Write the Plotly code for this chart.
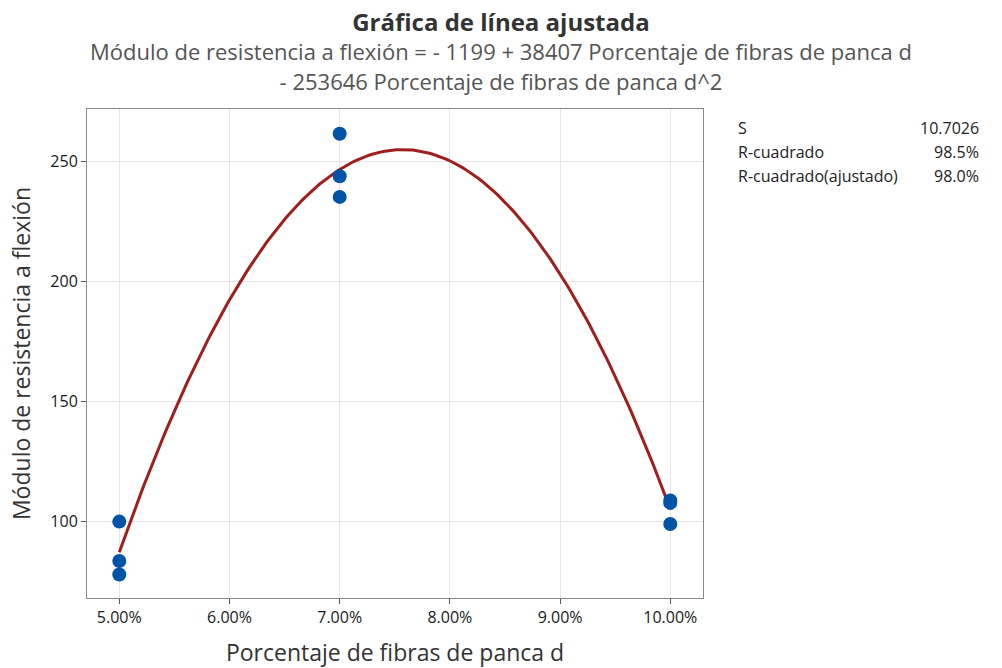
import numpy as np
import plotly.graph_objects as go

# Observed data
x_obs = [0.05, 0.05, 0.05, 0.07, 0.07, 0.07, 0.10, 0.10, 0.10]
y_obs = [100.0, 83.6, 78.0, 261.5, 243.8, 235.2, 108.8, 107.8, 99.0]

# Fitted model coefficients (from the chart's equation)
coef_b0 = -1199
coef_b1 = 38407
coef_b2 = -253646

# Summary statistics
stat_labels = ["S", "R-cuadrado", "R-cuadrado(ajustado)"]
stat_values = ["10.7026", "98.5%", "98.0%"]

x_ticks = [0.05, 0.06, 0.07, 0.08, 0.09, 0.10]
x_ticktext = ["5.00%", "6.00%", "7.00%", "8.00%", "9.00%", "10.00%"]
y_ticks = [100, 150, 200, 250]

title_text = "Gráfica de línea ajustada"
subtitle_lines = ["Módulo de resistencia a flexión = - 1199 + 38407 Porcentaje de fibras de panca d",
                  "- 253646 Porcentaje de fibras de panca d^2"]

xf = np.linspace(min(x_obs), max(x_obs), 200)
yf = coef_b0 + coef_b1 * xf + coef_b2 * xf ** 2

FONT = "Open Sans"

# page body margin is removed below; plot box at px (87..702.7, 109..598)
PL, PR, PT, PB = 87, 702.7, 109, 598
PW, PH = PR - PL, PB - PT

fig = go.Figure()
fig.add_trace(go.Scatter(x=xf, y=yf, mode="lines",
                         line=dict(color="#A01E1E", width=3), hoverinfo="skip"))
fig.add_trace(go.Scatter(x=x_obs, y=y_obs, mode="markers",
                         marker=dict(color="#0054A8", size=14, line=dict(width=0))))

fig.update_layout(
    width=1002, height=668,
    margin=dict(l=PL, r=1002 - PR, t=PT, b=668 - PB, autoexpand=False),
    paper_bgcolor="white", plot_bgcolor="white",
    showlegend=False,
    font=dict(family=FONT, color="#222222"),
)

fig.update_xaxes(range=[0.04707, 0.10297], tickvals=x_ticks, ticktext=x_ticktext,
                 showgrid=True, gridcolor="#e6e6e6", gridwidth=1,
                 showline=True, linecolor="#8a8a8a", linewidth=1, mirror=True,
                 ticks="outside", ticklen=5, tickcolor="#555555",
                 tickfont=dict(size=16, color="#1a1a1a", family=FONT),
                 zeroline=False, automargin=False,
                 title=dict(text="Porcentaje de fibras de panca d",
                            font=dict(size=23, color="#333333", family=FONT), standoff=17))
fig.update_yaxes(range=[68.2, 271.8], tickvals=y_ticks,
                 showgrid=True, gridcolor="#e6e6e6", gridwidth=1,
                 showline=True, linecolor="#8a8a8a", linewidth=1, mirror=True,
                 ticks="outside", ticklen=5, tickcolor="#555555",
                 tickfont=dict(size=16, color="#1a1a1a", family=FONT),
                 zeroline=False, automargin=False,
                 title=dict(text="Módulo de resistencia a flexión",
                            font=dict(size=23, color="#333333", family=FONT), standoff=13))

header = ('<b><span style="font-size:24px;color:#333333">' + title_text + '</span></b><br>'
          + '<span style="font-size:22px">' + "<br>".join(subtitle_lines) + '</span>')
fig.add_annotation(text=header, xref="paper", yref="paper", x=(501 - PL) / PW,
                   y=1 + (PT - 51) / PH, showarrow=False, xanchor="center", yanchor="middle",
                   align="center",
                   font=dict(family=FONT, size=22.5, color="#555555"))

for i, (lab, val) in enumerate(zip(stat_labels, stat_values)):
    ypix = 128 + i * 24
    yp = 1 + (PT - ypix) / PH
    fig.add_annotation(text=lab, xref="paper", yref="paper", x=(736 - PL) / PW, y=yp,
                       showarrow=False, xanchor="left", yanchor="middle",
                       font=dict(family=FONT, size=16, color="#222222"))
    fig.add_annotation(text=val, xref="paper", yref="paper", x=(981 - PL) / PW, y=yp,
                       showarrow=False, xanchor="right", yanchor="middle",
                       font=dict(family=FONT, size=16, color="#222222"))

fig.write_html("out.html", config={"displayModeBar": False},
               post_script="document.body.style.margin='0px';")
